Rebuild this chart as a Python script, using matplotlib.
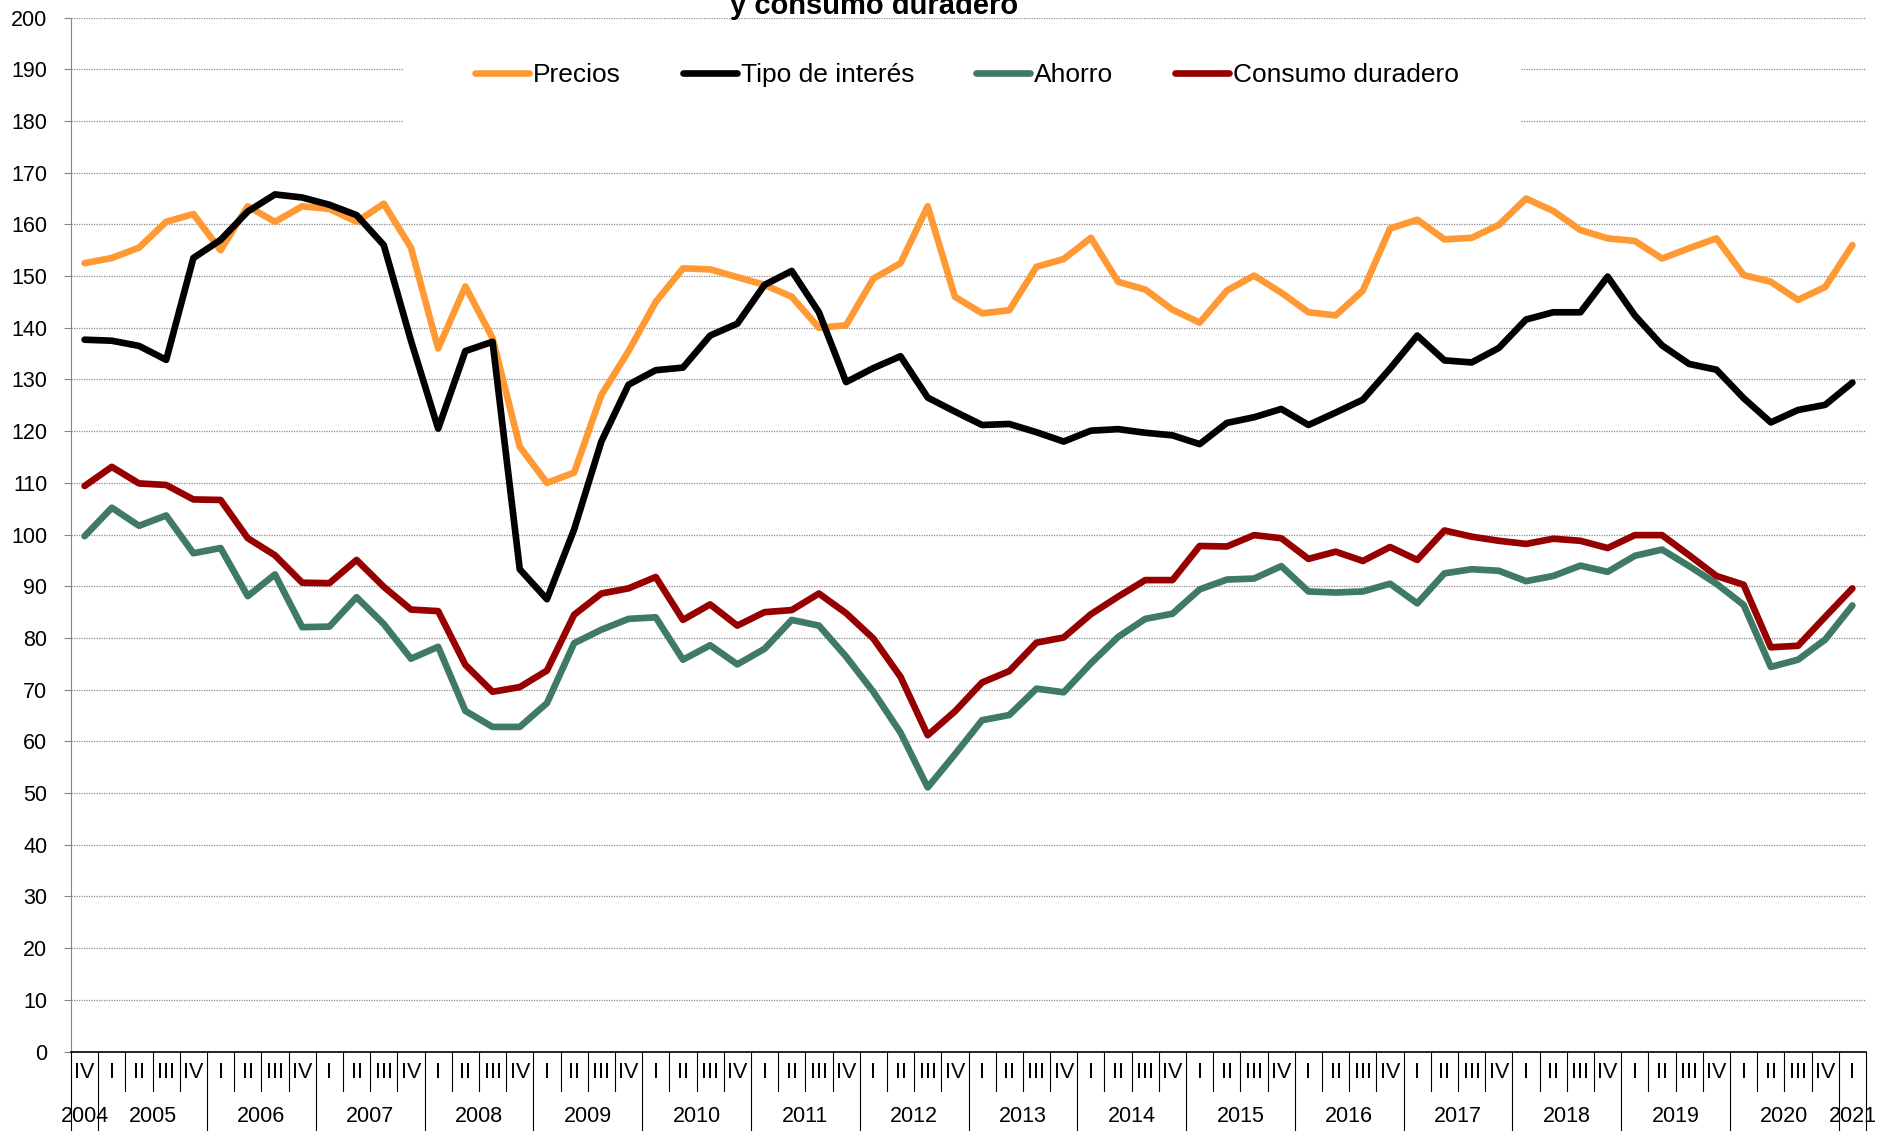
import matplotlib
matplotlib.use('Agg')
import matplotlib.pyplot as plt
from matplotlib.patches import Rectangle
import numpy as np

plt.rcParams['font.family'] = ['Liberation Sans', 'DejaVu Sans']

# quarters: 2004 IV ... 2021 I
years = list(range(2004, 2022))
quarters = ['IV'] + ['I', 'II', 'III', 'IV'] * 16 + ['I']

precios = [152.5, 153.5, 155.5, 160.5, 162.0, 155.0, 163.5, 160.5, 163.5, 163.0,
           160.5, 164.0, 155.5, 136.0, 148.0, 138.0, 117.0, 110.0, 112.0, 127.0,
           135.5, 145.0, 151.5, 151.3, 149.8, 148.3, 146.0, 140.0, 140.5, 149.5,
           152.5, 163.5, 146.0, 142.8, 143.4, 151.8, 153.3, 157.4, 148.9, 147.4,
           143.5, 141.0, 147.2, 150.1, 146.8, 143.0, 142.4, 147.2, 159.2, 160.9,
           157.1, 157.4, 159.9, 165.0, 162.6, 158.9, 157.3, 156.8, 153.4, 155.4,
           157.3, 150.2, 148.9, 145.4, 147.9, 156.0]

tipo_interes = [137.7, 137.5, 136.5, 133.8, 153.5, 157.0, 162.5, 165.8, 165.2, 163.8,
                161.8, 156.0, 137.5, 120.5, 135.5, 137.3, 93.3, 87.5, 101.0, 118.0,
                129.0, 131.8, 132.3, 138.5, 140.8, 148.3, 151.0, 143.0, 129.5, 132.2,
                134.5, 126.5, 123.8, 121.2, 121.4, 119.8, 118.0, 120.1, 120.4, 119.7,
                119.2, 117.5, 121.6, 122.7, 124.3, 121.2, 123.6, 126.1, 132.1, 138.5,
                133.7, 133.3, 136.1, 141.6, 143.0, 143.0, 149.9, 142.4, 136.6, 133.0,
                131.9, 126.4, 121.7, 124.1, 125.1, 129.4]

ahorro = [99.7, 105.2, 101.7, 103.7, 96.4, 97.4, 88.1, 92.3, 82.1, 82.2,
          87.9, 82.7, 76.0, 78.3, 65.9, 62.8, 62.8, 67.4, 79.0, 81.6,
          83.7, 84.0, 75.8, 78.6, 74.9, 77.9, 83.5, 82.4, 76.4, 69.6,
          61.7, 51.1, 57.5, 64.1, 65.1, 70.2, 69.5, 75.1, 80.2, 83.7,
          84.7, 89.4, 91.3, 91.5, 93.9, 89.0, 88.8, 89.0, 90.5, 86.7,
          92.5, 93.3, 93.0, 91.0, 92.0, 94.0, 92.8, 95.9, 97.1, 93.9,
          90.5, 86.4, 74.4, 75.8, 79.7, 86.3]

consumo_duradero = [109.4, 113.1, 109.9, 109.6, 106.8, 106.7, 99.3, 96.0, 90.7, 90.6,
                    95.1, 89.9, 85.5, 85.2, 74.8, 69.6, 70.5, 73.7, 84.5, 88.6,
                    89.6, 91.8, 83.5, 86.5, 82.4, 85.0, 85.4, 88.6, 84.8, 79.9,
                    72.5, 61.2, 65.8, 71.4, 73.6, 79.1, 80.1, 84.6, 88.0, 91.2,
                    91.2, 97.8, 97.7, 99.9, 99.3, 95.3, 96.7, 94.9, 97.6, 95.1,
                    100.8, 99.6, 98.8, 98.2, 99.2, 98.8, 97.4, 99.9, 99.9, 96.0,
                    92.0, 90.3, 78.2, 78.5, 84.1, 89.6]

series = [('Precios', precios, '#FF9933'),
          ('Tipo de interés', tipo_interes, '#000000'),
          ('Ahorro', ahorro, '#3F7A66'),
          ('Consumo duradero', consumo_duradero, '#960000')]

fig = plt.figure(figsize=(18.9, 11.31), dpi=100)
ax = fig.add_axes([71 / 1890, 1 - 1051.6 / 1131, 1795 / 1890, 1034 / 1131])

x = np.arange(len(quarters))
handles = []
for name, vals, col in series:
    h, = ax.plot(x, vals, color=col, lw=4.8, solid_joinstyle='round',
                 solid_capstyle='round', label=name, zorder=3)
    handles.append(h)

ax.set_xlim(-0.5, len(quarters) - 0.5)
ax.set_ylim(0, 200)
ax.set_yticks(range(0, 201, 10))
ax.tick_params(axis='y', labelsize=15.5, length=5, color='#868686', pad=12)
ax.tick_params(axis='x', bottom=False, labelbottom=False)
ax.set_axisbelow(True)
ax.grid(axis='y', color='#8c8c8c', linestyle=(0, (1, 1)), linewidth=0.9)

for s in ['top', 'right']:
    ax.spines[s].set_visible(False)
ax.spines['left'].set_color('#868686')
ax.spines['bottom'].set_color('black')
ax.spines['bottom'].set_linewidth(1.2)

# multi-level category axis (quarters / years)
tr = ax.get_xaxis_transform()
q_row = -(1072 - 1051.6) / 1034
y_row = -(1116 - 1051.6) / 1034
q_bot = -(1091 - 1051.6) / 1034
y_bot = -(1131 - 1051.6) / 1034
for i, q in enumerate(quarters):
    ax.text(i, q_row, q, transform=tr, ha='center', va='center', fontsize=15.5)

year_idx = {}
for i in range(len(quarters)):
    yr = 2004 if i == 0 else 2005 + (i - 1) // 4
    year_idx.setdefault(yr, []).append(i)

long_bounds = {-0.5, len(quarters) - 0.5}
for yr, idx in year_idx.items():
    if len(idx) == 4:
        long_bounds.add(idx[0] - 0.5)
        long_bounds.add(idx[-1] + 0.5)
    ax.text(np.mean(idx), y_row, str(yr), transform=tr, ha='center', va='center',
            fontsize=15.5)

for b in np.arange(-0.5, len(quarters), 1.0):
    bottom = y_bot if b in long_bounds else q_bot
    ax.plot([b, b], [0, bottom], transform=tr, color='black', lw=0.8,
            clip_on=False, zorder=4)

# white box behind legend hiding the gridlines
fig.add_artist(Rectangle((404 / 1890, 1 - 135 / 1131), 1117 / 1890, 105 / 1131,
                         transform=fig.transFigure, facecolor='white',
                         edgecolor='none', zorder=1))
fig.legend(handles=handles, loc='center', bbox_to_anchor=(967 / 1890, 1 - 75 / 1131),
           ncol=4, frameon=False, fontsize=19, handlelength=2.05,
           handletextpad=0.15, columnspacing=2.35, borderpad=0)

fig.text(874 / 1890, 1 - 13.5 / 1131, 'y consumo duradero', ha='center',
         va='baseline', fontsize=21, fontweight='bold')

fig.savefig('out.png', dpi=100)
